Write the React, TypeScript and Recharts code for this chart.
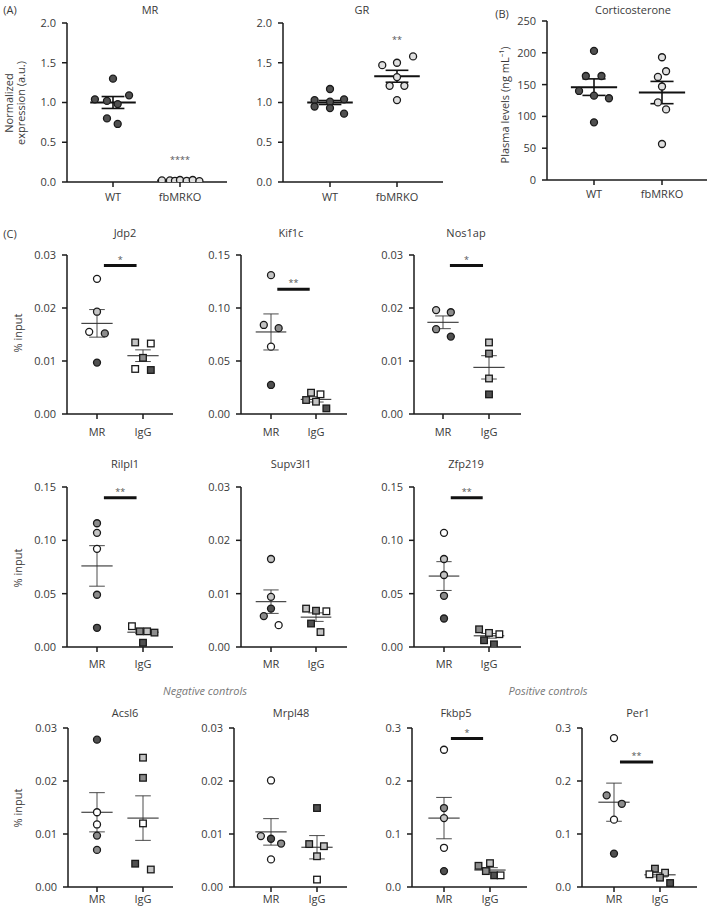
import React from 'react';
import { ScatterChart, Scatter, XAxis, YAxis, ReferenceLine } from 'recharts';

const FONT = '"Open Sans", "Noto Sans", sans-serif';
const INK = '#3a3a3a';
const SHADE: Record<string, string> = { w: '#ffffff', l: '#c4c4c4', m: '#8c8c8c', d: '#505050', g: '#e0e0e0' };

// (A) MR expression
const mrWT = [1.3, 1.04, 1.02, 1.09, 0.98, 0.8, 0.73];
const mrWTJit = [0, -0.27, -0.09, 0.24, 0.07, -0.09, 0.07];
const mrKO = [0.02, 0.02, 0.015, 0.025, 0.015, 0.025, 0.01];
const mrKOJit = [-0.27, -0.15, -0.075, 0, 0.1, 0.19, 0.29];
// (A) GR expression
const grWT = [1.17, 1.03, 1.01, 1.04, 0.95, 0.93, 0.86];
const grWTJit = [0, -0.23, 0, 0.21, -0.23, 0, 0.21];
const grKO = [1.47, 1.5, 1.58, 1.32, 1.21, 1.21, 1.03];
const grKOJit = [-0.22, 0, 0.24, 0, -0.11, 0.11, 0];
// (B) corticosterone
const cortWT = [203, 163.5, 163.5, 140, 132.6, 128.5, 90.7];
const cortWTJit = [0, -0.12, 0.11, -0.22, 0, 0.22, 0];
const cortKO = [193, 171, 162, 147, 122, 111, 56.6];
const cortKOJit = [0, 0.06, -0.06, 0, -0.06, 0.06, 0];

// (C) ChIP, % input: MR then IgG
const jdp2MR = [0.0255, 0.0193, 0.0155, 0.0152, 0.0097];
const jdp2MRJit = [0, 0, -0.17, 0.17, 0];
const jdp2MRShade = ['w', 'l', 'w', 'm', 'd'];
const jdp2IgG = [0.0135, 0.0133, 0.0106, 0.0085, 0.0083];
const jdp2IgGJit = [-0.17, 0.17, 0, -0.17, 0.17];
const jdp2IgGShade = ['l', 'w', 'm', 'w', 'd'];

const kif1cMR = [0.131, 0.084, 0.081, 0.0635, 0.0274];
const kif1cMRJit = [0, -0.16, 0.17, 0, 0];
const kif1cMRShade = ['l', 'l', 'm', 'w', 'd'];
const kif1cIgG = [0.0201, 0.0186, 0.0132, 0.0116, 0.0053];
const kif1cIgGJit = [-0.11, 0.1, -0.22, 0, 0.23];
const kif1cIgGShade = ['l', 'w', 'm', 'l', 'd'];

const nos1apMR = [0.0196, 0.0192, 0.016, 0.0146];
const nos1apMRJit = [-0.15, 0.17, -0.15, 0.17];
const nos1apMRShade = ['l', 'm', 'm', 'd'];
const nos1apIgG = [0.0135, 0.0114, 0.0067, 0.0037];
const nos1apIgGJit = [0, 0, 0, 0];
const nos1apIgGShade = ['l', 'm', 'l', 'd'];

const rilpl1MR = [0.116, 0.107, 0.092, 0.049, 0.018];
const rilpl1MRJit = [0, 0, 0, 0, 0];
const rilpl1MRShade = ['m', 'l', 'w', 'm', 'd'];
const rilpl1IgG = [0.0195, 0.0147, 0.0147, 0.0135, 0.004];
const rilpl1IgGJit = [-0.24, -0.07, 0.09, 0.25, 0];
const rilpl1IgGShade = ['w', 'm', 'l', 'm', 'd'];

const supv3l1MR = [0.0165, 0.0094, 0.0072, 0.0058, 0.0041];
const supv3l1MRJit = [0, 0, 0, -0.16, 0.17];
const supv3l1MRShade = ['l', 'l', 'd', 'm', 'w'];
const supv3l1IgG = [0.0072, 0.0068, 0.0067, 0.0044, 0.0028];
const supv3l1IgGJit = [-0.22, 0, 0.23, -0.11, 0.1];
const supv3l1IgGShade = ['l', 'm', 'w', 'd', 'l'];

const zfp219MR = [0.107, 0.0825, 0.0675, 0.048, 0.0267];
const zfp219MRJit = [0, 0, 0, 0, 0];
const zfp219MRShade = ['w', 'l', 'l', 'm', 'd'];
const zfp219IgG = [0.0166, 0.0132, 0.012, 0.0063, 0.0025];
const zfp219IgGJit = [-0.22, 0, 0.23, -0.11, 0.11];
const zfp219IgGShade = ['m', 'l', 'w', 'd', 'd'];

const acsl6MR = [0.0278, 0.0141, 0.0118, 0.0097, 0.007];
const acsl6MRJit = [0, 0, 0, 0, 0];
const acsl6MRShade = ['d', 'w', 'w', 'm', 'm'];
const acsl6IgG = [0.0244, 0.0206, 0.012, 0.0044, 0.0033];
const acsl6IgGJit = [0, 0, 0, -0.17, 0.17];
const acsl6IgGShade = ['l', 'm', 'w', 'd', 'l'];

const mrpl48MR = [0.0201, 0.0096, 0.0091, 0.0082, 0.0052];
const mrpl48MRJit = [0, -0.22, 0, 0.22, 0];
const mrpl48MRShade = ['w', 'l', 'd', 'm', 'w'];
const mrpl48IgG = [0.0149, 0.0081, 0.0077, 0.0058, 0.0014];
const mrpl48IgGJit = [0, -0.17, 0.15, 0, 0];
const mrpl48IgGShade = ['d', 'm', 'l', 'l', 'w'];

const fkbp5MR = [0.259, 0.149, 0.13, 0.074, 0.03];
const fkbp5MRJit = [0, 0, 0, 0, 0];
const fkbp5MRShade = ['w', 'm', 'l', 'w', 'd'];
const fkbp5IgG = [0.045, 0.04, 0.03, 0.022, 0.022];
const fkbp5IgGJit = [0, -0.25, -0.09, 0.09, 0.23];
const fkbp5IgGShade = ['l', 'm', 'm', 'd', 'w'];

const per1MR = [0.281, 0.173, 0.157, 0.127, 0.063];
const per1MRJit = [0, -0.16, 0.17, 0, 0];
const per1MRShade = ['w', 'm', 'm', 'w', 'd'];
const per1IgG = [0.0346, 0.027, 0.024, 0.0176, 0.0075];
const per1IgGJit = [-0.11, 0.11, -0.23, 0, 0.22];
const per1IgGShade = ['m', 'l', 'w', 'm', 'd'];

// mean, SEM
const stats: Record<string, [number, number][]> = {
  mr: [[1.0, 0.075], [0.02, 0.003]],
  gr: [[1.0, 0.025], [1.33, 0.075]],
  cort: [[146, 13], [137.5, 17.5]],
  jdp2: [[0.0171, 0.0026], [0.011, 0.0011]],
  kif1c: [[0.0774, 0.017], [0.0138, 0.0025]],
  nos1ap: [[0.0173, 0.0012], [0.0088, 0.0022]],
  rilpl1: [[0.076, 0.019], [0.0139, 0.0012]],
  supv3l1: [[0.0085, 0.0022], [0.0056, 0.0008]],
  zfp219: [[0.0665, 0.0135], [0.0105, 0.0022]],
  acsl6: [[0.0141, 0.0037], [0.013, 0.0042]],
  mrpl48: [[0.0104, 0.0025], [0.0075, 0.0022]],
  fkbp5: [[0.13, 0.039], [0.032, 0.0045]],
  per1: [[0.16, 0.036], [0.023, 0.004]],
};

const genoCats = ['WT', 'fbMRKO'];
const chipCats = ['MR', 'IgG'];
const ticksA = [0, 0.5, 1, 1.5, 2];
const ticksB = [0, 50, 100, 150, 200, 250];
const ticks03 = [0, 0.01, 0.02, 0.03];
const ticks15 = [0, 0.05, 0.1, 0.15];
const ticks3 = [0, 0.1, 0.2, 0.3];

type Group = { vals: number[]; jit: number[]; shades: string | string[]; square?: boolean };
type Panel = {
  id: string; title: string; tx: number; ty: number;
  axisX: number; yTop: number; yBottom: number; xRight: number; catX: [number, number];
  ticks: number[]; digits: number; cats: string[]; groups: Group[];
  sig?: [number, number, number, string]; note?: [number, number, string];
  bold?: boolean; gap: number;
};

const chip = (id: string, title: string, tx: number, ty: number, axisX: number, yTop: number, yBottom: number,
  catX: [number, number], xRight: number, ticks: number[], digits: number,
  mr: number[], mrJ: number[], mrS: string[], igg: number[], iggJ: number[], iggS: string[],
  gap: number, sig?: [number, number, number, string]): Panel => ({
  id, title, tx, ty, axisX, yTop, yBottom, xRight, catX, ticks, digits, cats: chipCats, gap, sig,
  groups: [
    { vals: mr, jit: mrJ, shades: mrS },
    { vals: igg, jit: iggJ, shades: iggS, square: true },
  ],
});

const panels: Panel[] = [
  {
    id: 'mr', title: 'MR', tx: 150, ty: 9, axisX: 67, yTop: 23, yBottom: 182, xRight: 227, catX: [113, 180],
    ticks: ticksA, digits: 1, cats: genoCats, bold: true, gap: 15,
    groups: [{ vals: mrWT, jit: mrWTJit, shades: 'd' }, { vals: mrKO, jit: mrKOJit, shades: 'g' }],
    note: [2, 0.2, '****'],
  },
  {
    id: 'gr', title: 'GR', tx: 362, ty: 9, axisX: 283, yTop: 23, yBottom: 182, xRight: 443, catX: [330, 397],
    ticks: ticksA, digits: 1, cats: genoCats, bold: true, gap: 15,
    groups: [{ vals: grWT, jit: grWTJit, shades: 'd' }, { vals: grKO, jit: grKOJit, shades: 'g' }],
    note: [2, 1.71, '**'],
  },
  {
    id: 'cort', title: 'Corticosterone', tx: 633, ty: 9, axisX: 547, yTop: 21, yBottom: 180, xRight: 707, catX: [594, 662],
    ticks: ticksB, digits: 0, cats: genoCats, bold: true, gap: 14,
    groups: [{ vals: cortWT, jit: cortWTJit, shades: 'd' }, { vals: cortKO, jit: cortKOJit, shades: 'g' }],
  },
  chip('jdp2', 'Jdp2', 125, 232, 67, 255, 414, [97, 143], 173, ticks03, 2, jdp2MR, jdp2MRJit, jdp2MRShade, jdp2IgG, jdp2IgGJit, jdp2IgGShade, 18, [1.15, 1.86, 0.028, '*']),
  chip('kif1c', 'Kif1c', 291, 232, 241, 255, 414, [271, 316], 347, ticks15, 2, kif1cMR, kif1cMRJit, kif1cMRShade, kif1cIgG, kif1cIgGJit, kif1cIgGShade, 18, [1.14, 1.86, 0.1176, '**']),
  chip('nos1ap', 'Nos1ap', 466, 232, 414, 255, 414, [443, 489], 521, ticks03, 2, nos1apMR, nos1apMRJit, nos1apMRShade, nos1apIgG, nos1apIgGJit, nos1apIgGShade, 18, [1.15, 1.87, 0.028, '*']),
  chip('rilpl1', 'Rilpl1', 125, 463, 67, 487, 647, [97, 143], 173, ticks15, 2, rilpl1MR, rilpl1MRJit, rilpl1MRShade, rilpl1IgG, rilpl1IgGJit, rilpl1IgGShade, 17, [1.15, 1.86, 0.14, '**']),
  chip('supv3l1', 'Supv3l1', 291, 463, 241, 487, 647, [271, 316], 347, ticks03, 2, supv3l1MR, supv3l1MRJit, supv3l1MRShade, supv3l1IgG, supv3l1IgGJit, supv3l1IgGShade, 17),
  chip('zfp219', 'Zfp219', 466, 463, 414, 487, 647, [444, 489], 521, ticks15, 2, zfp219MR, zfp219MRJit, zfp219MRShade, zfp219IgG, zfp219IgGJit, zfp219IgGShade, 17, [1.15, 1.86, 0.14, '**']),
  chip('acsl6', 'Acsl6', 125, 712, 68, 728, 887, [97, 143], 173, ticks03, 2, acsl6MR, acsl6MRJit, acsl6MRShade, acsl6IgG, acsl6IgGJit, acsl6IgGShade, 12),
  chip('mrpl48', 'Mrpl48', 291, 712, 234, 728, 887, [271, 317], 347, ticks03, 2, mrpl48MR, mrpl48MRJit, mrpl48MRShade, mrpl48IgG, mrpl48IgGJit, mrpl48IgGShade, 12),
  chip('fkbp5', 'Fkbp5', 456, 712, 412, 728, 887, [444, 490], 527, ticks3, 1, fkbp5MR, fkbp5MRJit, fkbp5MRShade, fkbp5IgG, fkbp5IgGJit, fkbp5IgGShade, 12, [1.15, 1.85, 0.28, '*']),
  chip('per1', 'Per1', 638, 712, 582, 728, 887, [614, 660], 697, ticks3, 1, per1MR, per1MRJit, per1MRShade, per1IgG, per1IgGJit, per1IgGShade, 12, [1.13, 1.85, 0.236, '**']),
];

const Dot = (props: any) => {
  const { cx, cy, payload } = props;
  if (cx == null || cy == null) return <g />;
  if (payload.square) {
    return <rect x={cx - 3.3} y={cy - 3.3} width={6.6} height={6.6} fill={payload.fill} stroke="#1a1a1a" strokeWidth={1.3} />;
  }
  return <circle cx={cx} cy={cy} r={3.5} fill={payload.fill} stroke="#1a1a1a" strokeWidth={1.3} />;
};

const build = (g: Group, cat: number) =>
  g.vals.map((y, i) => ({
    x: cat + g.jit[i],
    y,
    fill: SHADE[typeof g.shades === 'string' ? g.shades : g.shades[i]],
    square: !!g.square,
  }));

const Plot = ({ p }: { p: Panel }) => {
  const YW = 44, MT = 12, XH = 34, MRG = 2;
  const sp = p.catX[1] - p.catX[0];
  const lo = 1 - (p.catX[0] - p.axisX) / sp;
  const hi = 1 + (p.xRight - p.catX[0]) / sp;
  const w = YW + (p.xRight - p.axisX) + MRG;
  const h = MT + (p.yBottom - p.yTop) + XH;
  const yMax = p.ticks[p.ticks.length - 1];
  const lw = p.bold ? 2 : 1.1;
  const lc = p.bold ? '#111' : '#333';
  const tickStyle = { fontSize: 11, fill: INK, fontFamily: FONT };
  const axisStyle = { stroke: '#1a1a1a', strokeWidth: 1.5 };
  return (
    <div style={{ position: 'absolute', left: p.axisX - YW, top: p.yTop - MT, width: w, height: h }}>
      <ScatterChart width={w} height={h} margin={{ top: MT, right: MRG, bottom: 0, left: 0 }}>
        <XAxis
          type="number" dataKey="x" domain={[lo, hi]} ticks={[1, 2]} allowDataOverflow
          tickFormatter={(v: number) => p.cats[Math.round(v) - 1]}
          height={XH} tickSize={5} tickMargin={p.gap - 9}
          tick={tickStyle} axisLine={axisStyle} tickLine={axisStyle}
        />
        <YAxis
          type="number" dataKey="y" domain={[0, yMax]} ticks={p.ticks} allowDataOverflow
          width={YW} tickSize={5} tickMargin={6}
          tickFormatter={(v: number) => v.toFixed(p.digits)}
          tick={tickStyle} axisLine={axisStyle} tickLine={axisStyle}
        />
        {p.groups.map((g, gi) => (
          <Scatter key={`s${gi}`} data={build(g, gi + 1)} shape={Dot} isAnimationActive={false} />
        ))}
        {p.groups.map((g, gi) => {
          const c = gi + 1;
          const [m, s] = stats[p.id][gi];
          return [
            <ReferenceLine key={`m${gi}`} ifOverflow="visible" stroke={lc} strokeWidth={lw}
              segment={[{ x: c - 0.34, y: m }, { x: c + 0.34, y: m }]} />,
            <ReferenceLine key={`v${gi}`} ifOverflow="visible" stroke={lc} strokeWidth={lw * 0.8}
              segment={[{ x: c, y: m - s }, { x: c, y: m + s }]} />,
            <ReferenceLine key={`t${gi}`} ifOverflow="visible" stroke={lc} strokeWidth={lw * 0.8}
              segment={[{ x: c - 0.17, y: m + s }, { x: c + 0.17, y: m + s }]} />,
            <ReferenceLine key={`b${gi}`} ifOverflow="visible" stroke={lc} strokeWidth={lw * 0.8}
              segment={[{ x: c - 0.17, y: m - s }, { x: c + 0.17, y: m - s }]} />,
          ];
        })}
        {p.sig && (
          <ReferenceLine ifOverflow="visible" stroke="#111" strokeWidth={3}
            segment={[{ x: p.sig[0], y: p.sig[2] }, { x: p.sig[1], y: p.sig[2] }]}
            label={{ value: p.sig[3], position: 'top', fontSize: 9, fill: '#555', offset: 3, fontFamily: FONT }} />
        )}
        {p.note && (
          <ReferenceLine ifOverflow="visible" stroke="none"
            segment={[{ x: p.note[0] - 0.1, y: p.note[1] }, { x: p.note[0] + 0.1, y: p.note[1] }]}
            label={{ value: p.note[2], position: 'top', fontSize: 9, fill: '#555', offset: 3, fontFamily: FONT }} />
        )}
      </ScatterChart>
    </div>
  );
};

const Txt = ({ x, y, children, italic, color }: any) => (
  <div style={{
    position: 'absolute', left: x, top: y, transform: 'translate(-50%, -50%)', whiteSpace: 'nowrap',
    fontSize: 11, fontFamily: FONT, color: color || INK, fontStyle: italic ? 'italic' : 'normal', lineHeight: '13px',
  }}>{children}</div>
);

const VTxt = ({ x, y, children }: any) => (
  <div style={{
    position: 'absolute', left: x, top: y, transform: 'translate(-50%, -50%) rotate(-90deg)', whiteSpace: 'nowrap',
    fontSize: 11, fontFamily: FONT, color: INK, textAlign: 'center', lineHeight: '12px',
  }}>{children}</div>
);

export default function App() {
  return (
    <div style={{ position: 'absolute', left: 0, top: 0, width: 709, height: 911, background: '#fff', overflow: 'hidden' }}>
      {panels.map((p) => <Plot key={p.id} p={p} />)}
      {panels.map((p) => <Txt key={`t${p.id}`} x={p.tx} y={p.ty}>{p.title}</Txt>)}
      <Txt x={10} y={9}>(A)</Txt>
      <Txt x={502} y={13}>(B)</Txt>
      <Txt x={10} y={233}>(C)</Txt>
      <VTxt x={15} y={103}>Normalized<br />expression (a.u.)</VTxt>
      <VTxt x={505} y={105}>Plasma levels (ng mL⁻¹)</VTxt>
      <VTxt x={18} y={333}>% input</VTxt>
      <VTxt x={18} y={568}>% input</VTxt>
      <VTxt x={18} y={808}>% input</VTxt>
      <Txt x={205} y={690} italic color="#777">Negative controls</Txt>
      <Txt x={548} y={690} italic color="#777">Positive controls</Txt>
    </div>
  );
}
